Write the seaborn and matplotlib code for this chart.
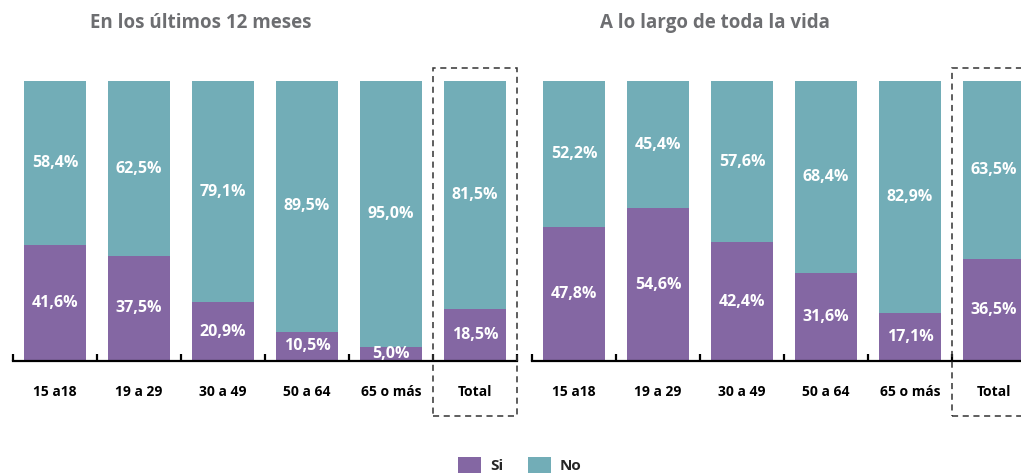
import matplotlib
matplotlib.use("Agg")
import matplotlib.pyplot as plt
import seaborn as sns
import pandas as pd
from matplotlib.patches import Rectangle, Patch

categories = ["15 a18", "19 a 29", "30 a 49", "50 a 64", "65 o más", "Total"]
si_12m = [41.6, 37.5, 20.9, 10.5, 5.0, 18.5]
no_12m = [58.4, 62.5, 79.1, 89.5, 95.0, 81.5]
si_vida = [47.8, 54.6, 42.4, 31.6, 17.1, 36.5]
no_vida = [52.2, 45.4, 57.6, 68.4, 82.9, 63.5]
titles = ["En los últimos 12 meses", "A lo largo de toda la vida"]
legend_labels = ["Si", "No"]

PURPLE = "#8467a3"
TEAL = "#72adb7"
TITLE_GRAY = "#6d6e71"

sns.set_style("white")
plt.rcParams["font.family"] = ["Open Sans", "DejaVu Sans"]

W, H = 1021, 475
fig = plt.figure(figsize=(W / 100, H / 100), dpi=100)

def px_axes(x0, x1, ytop, ybot):
    return [x0 / W, (H - ybot) / H, (x1 - x0) / W, (ybot - ytop) / H]

axes = [fig.add_axes(px_axes(13, 517, 81, 361)),
        fig.add_axes(px_axes(532, 1036, 81, 361))]

panels = [(si_12m, no_12m), (si_vida, no_vida)]
px_per_unit = 280 / 100.0

for ax, (si, no) in zip(axes, panels):
    df = pd.DataFrame({"cat": categories, "si": si, "no": no})
    df["total"] = df["si"] + df["no"]
    sns.barplot(data=df, x="cat", y="total", color=TEAL, width=0.73,
                saturation=1, ax=ax, order=categories, linewidth=0, edgecolor="none")
    sns.barplot(data=df, x="cat", y="si", color=PURPLE, width=0.73,
                saturation=1, ax=ax, order=categories, linewidth=0, edgecolor="none")
    ax.set_xlim(-0.5, 5.5)
    ax.set_ylim(0, 100)
    ax.set_xlabel("")
    ax.set_ylabel("")
    ax.set_yticks([])
    for s in ["top", "left", "right"]:
        ax.spines[s].set_visible(False)
    ax.spines["bottom"].set_linewidth(1.6)
    ax.spines["bottom"].set_color("black")
    ax.set_xticks(range(len(categories)))
    ax.set_xticklabels(categories, fontsize=10, fontweight="bold", color="black")
    ax.tick_params(axis="x", which="major", length=0, pad=17)
    ax.set_xticks([i - 0.5 for i in range(len(categories) + 1)], minor=True)
    ax.tick_params(axis="x", which="minor", direction="in", length=5,
                   width=1.6, color="black", bottom=True)
    for i, (s_, n_) in enumerate(zip(si, no)):
        ax.text(i, s_ / 2, f"{s_:.1f}%".replace(".", ","), ha="center",
                va="center", color="white", fontsize=11.5, fontweight="bold")
        ax.text(i, s_ + n_ / 2, f"{n_:.1f}%".replace(".", ","), ha="center",
                va="center", color="white", fontsize=11.5, fontweight="bold")
    # dashed highlight box around Total
    ylo = -(416 - 361) / px_per_unit
    yhi = (361 - 68) / px_per_unit
    rect = Rectangle((4.5, ylo), 1.0, yhi - ylo, fill=False, linestyle=(0, (4, 3)),
                     linewidth=1.1, edgecolor="#333333", clip_on=False, zorder=5)
    ax.add_patch(rect)

fig.text(201 / W, 1 - 23 / H, titles[0], ha="center", va="center",
         fontsize=13.5, fontweight="bold", color=TITLE_GRAY)
fig.text(715 / W, 1 - 23 / H, titles[1], ha="center", va="center",
         fontsize=13.5, fontweight="bold", color=TITLE_GRAY)

handles = [Patch(facecolor=PURPLE, edgecolor="none"),
           Patch(facecolor=TEAL, edgecolor="none")]
leg = fig.legend(handles, legend_labels, loc="center", bbox_to_anchor=(520 / W, 1 - 465 / H),
                 ncol=2, frameon=False, handlelength=1.5, handleheight=1.3,
                 columnspacing=1.6, handletextpad=0.6,
                 prop={"weight": "bold", "size": 11})

fig.savefig("out.png", dpi=100)
